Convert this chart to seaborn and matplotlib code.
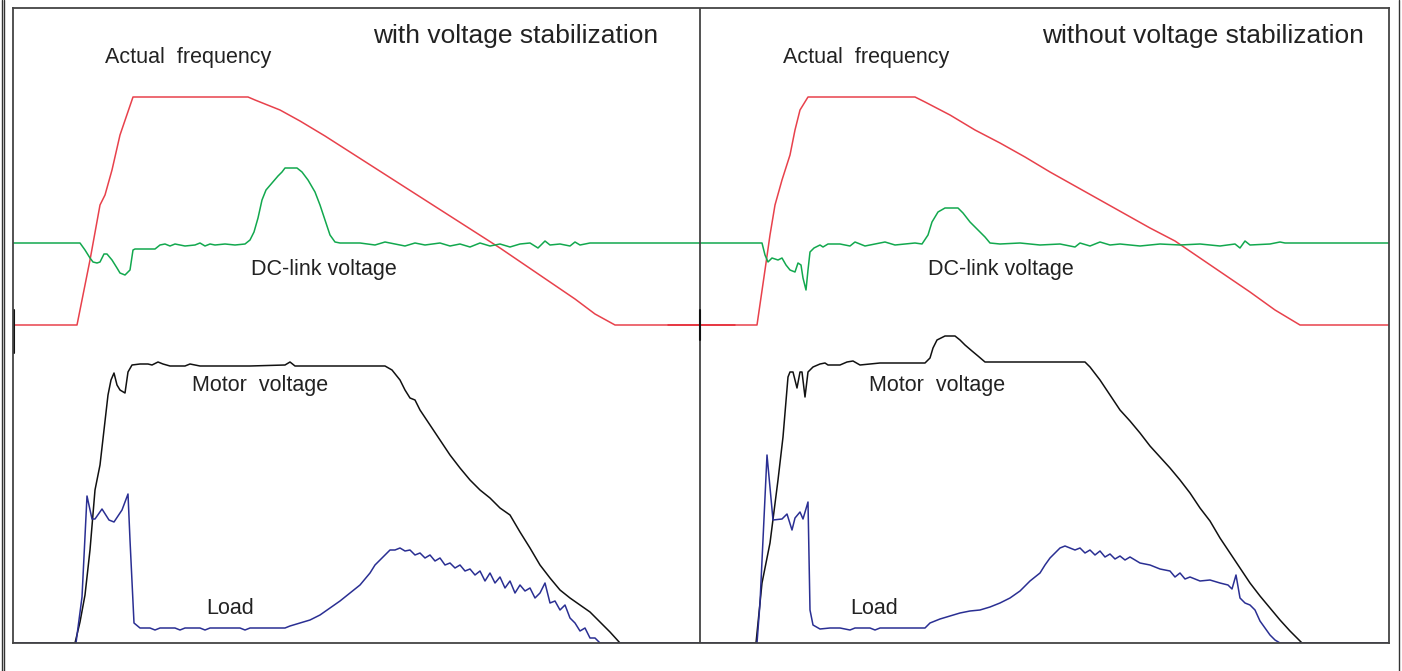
import numpy as np
import pandas as pd
import matplotlib
matplotlib.use("Agg")
import matplotlib.pyplot as plt
import seaborn as sns
from matplotlib.lines import Line2D

# tiempo (unidades de registro) y niveles de cada señal, leidos del oscilograma
# ---- panel izquierdo: con estabilizacion de tension ----
frec_izq_t = [13, 77, 90, 100, 105, 112, 120, 133, 248, 255, 265, 280, 300, 325, 350, 375, 400,
              425, 450, 475, 500, 525, 550, 575, 595, 615, 735]
frec_izq_v = [318, 318, 383, 438, 448, 473, 508, 546, 546, 543, 539, 533, 522, 507, 491, 475, 459,
              443, 427, 411, 395, 378, 361, 344, 329, 318, 318]

dc_izq_t = [13, 80, 85, 90, 93, 97, 100, 104, 107, 112, 117, 120, 125, 130, 133, 135, 155, 160,
            165, 170, 175, 185, 195, 200, 205, 210, 215, 225, 235, 245, 250, 254, 258, 262, 266,
            272, 278, 282, 285, 297, 302, 308, 315, 320, 325, 330, 335, 340, 360, 375, 385, 395,
            405, 415, 425, 440, 450, 460, 470, 480, 490, 500, 510, 520, 530, 538, 545, 550, 560,
            570, 575, 580, 590, 600, 700]
dc_izq_v = [400, 400, 393, 385, 381, 380, 381, 389, 389, 383, 375, 370, 368, 373, 393, 394, 394, 398,
            399, 397, 399, 397, 398, 400, 397, 399, 398, 399, 398, 399, 403, 411, 425, 443, 453,
            460, 467, 471, 475, 475, 471, 463, 451, 438, 423, 408, 401, 400, 400, 398, 401, 399,
            397, 400, 398, 400, 397, 399, 396, 400, 397, 399, 396, 399, 400, 395, 402, 398, 399,
            397, 401, 398, 400, 400, 400]

motor_izq_t = [13, 75, 80, 85, 90, 95, 100, 104, 108, 111, 114, 117, 120, 125, 128, 132, 140, 148,
               152, 158, 163, 170, 185, 190, 200, 250, 285, 290, 295, 385, 392, 400, 405, 410,
               415, 420, 430, 440, 450, 460, 470, 480, 490, 500, 510, 520, 530, 540, 550, 560,
               570, 580, 590, 600, 610, 620, 700]
motor_izq_v = [0, 0, 21, 48, 93, 153, 178, 213, 248, 263, 270, 258, 253, 250, 271, 278, 279, 279,
               278, 281, 279, 277, 277, 279, 277, 277, 278, 281, 277, 277, 273, 263, 253, 245,
               243, 233, 218, 203, 188, 175, 163, 153, 145, 135, 128, 111, 95, 78, 65, 53,
               45, 38, 31, 21, 11, 0, 0]

carga_izq_t = [13, 76, 82, 87, 92, 95, 102, 109, 114, 122, 128, 130, 134, 140, 150, 155, 160, 175,
               180, 185, 200, 205, 210, 240, 245, 250, 285, 290, 300, 310, 320, 330, 340, 350,
               360, 370, 375, 380, 385, 390, 395, 400, 405, 410, 415, 420, 425, 430, 435, 440,
               445, 450, 455, 460, 465, 470, 475, 480, 485, 490, 495, 500, 505, 510, 515, 520,
               525, 530, 535, 540, 545, 550, 555, 560, 565, 570, 575, 580, 585, 590, 595, 600, 700]
carga_izq_v = [0, 0, 46, 147, 124, 124, 134, 123, 121, 133, 149, 103, 20, 15, 15, 13, 15, 15,
               13, 15, 15, 13, 15, 15, 13, 15, 15, 17, 20, 23, 28, 35, 42, 50,
               58, 70, 78, 83, 88, 93, 93, 95, 92, 93, 88, 90, 85, 88, 82, 85,
               78, 80, 75, 78, 72, 74, 68, 72, 62, 70, 60, 66, 55, 62, 50, 58,
               52, 55, 45, 50, 60, 40, 42, 33, 38, 25, 20, 12, 15, 5, 5, 0, 0]

# ---- panel derecho: sin estabilizacion de tension ----
frec_der_t = [668, 757, 765, 770, 775, 782, 790, 795, 800, 808, 915, 925, 950, 975, 1000, 1025,
              1050, 1075, 1100, 1125, 1150, 1175, 1200, 1225, 1250, 1275, 1300, 1389]
frec_der_v = [318, 318, 373, 408, 438, 463, 488, 513, 533, 546, 546, 541, 528, 513, 500, 486,
              471, 457, 443, 429, 415, 402, 385, 368, 351, 333, 318, 318]

dc_der_t = [700, 762, 765, 768, 772, 778, 782, 786, 790, 795, 798, 801, 803, 806, 808, 810, 814,
            820, 823, 828, 840, 850, 855, 865, 875, 885, 895, 905, 915, 922, 928, 932, 938, 945,
            958, 963, 970, 978, 985, 990, 1000, 1020, 1040, 1060, 1075, 1080, 1090, 1100, 1110,
            1120, 1140, 1160, 1180, 1200, 1220, 1235, 1240, 1245, 1250, 1270, 1280, 1285, 1389]
dc_der_v = [400, 400, 388, 381, 385, 383, 385, 378, 373, 371, 380, 378, 365, 353, 373, 391, 395,
            398, 396, 399, 399, 397, 401, 397, 399, 401, 398, 399, 400, 399, 408, 421, 431, 435,
            435, 430, 421, 413, 406, 400, 399, 400, 398, 399, 396, 400, 397, 401, 398,
            399, 397, 399, 398, 399, 397, 399, 395, 402, 398, 399, 401, 400, 400]

motor_der_t = [700, 756, 762, 770, 778, 783, 788, 790, 793, 797, 800, 802, 805, 808, 813, 820, 825,
               828, 840, 847, 853, 860, 870, 880, 900, 925, 930, 933, 937, 945, 955, 960, 965,
               972, 978, 985, 1000, 1050, 1085, 1090, 1100, 1110, 1120, 1130, 1140, 1150, 1160,
               1170, 1180, 1190, 1200, 1210, 1220, 1230, 1240, 1250, 1260, 1270, 1280, 1290,
               1302, 1389]
motor_der_v = [0, 0, 60, 100, 163, 206, 266, 271, 271, 255, 271, 271, 246, 271, 276, 279, 280,
               278, 278, 281, 282, 278, 279, 280, 280, 280, 285, 295, 303, 307, 307, 303, 298,
               292, 287, 281, 281, 281, 281, 276, 263, 248, 233, 222, 210, 197, 186,
               175, 163, 150, 135, 122, 105, 90, 75, 60, 47, 35, 23, 12,
               0, 0]

carga_der_t = [700, 757, 760, 767, 773, 782, 787, 792, 795, 800, 803, 808, 810, 813, 820, 830, 840,
               850, 855, 870, 875, 880, 925, 930, 940, 950, 960, 970, 980, 990, 1000, 1010, 1020,
               1030, 1040, 1045, 1050, 1055, 1060, 1065, 1070, 1075, 1080, 1085, 1090, 1095,
               1100, 1105, 1110, 1115, 1120, 1125, 1130, 1140, 1150, 1160, 1170, 1175, 1180,
               1185, 1190, 1200, 1210, 1220, 1228, 1232, 1236, 1240, 1245, 1250, 1255, 1260,
               1265, 1270, 1275, 1280, 1389]
carga_der_v = [0, 0, 40, 188, 123, 124, 129, 113, 125, 131, 124, 141, 33, 18, 14, 15, 15,
               13, 15, 15, 13, 15, 15, 20, 24, 27, 30, 32, 33, 36, 40, 45, 52,
               62, 70, 78, 85, 90, 95, 97, 95, 93, 95, 90, 93, 88,
               92, 86, 89, 84, 87, 83, 86, 80, 78, 74, 72, 66, 70,
               64, 66, 62, 63, 60, 58, 54, 68, 45, 40, 38, 33, 22,
               15, 8, 3, 0, 0]

rojo = "#e4202c"
verde = "#12a84e"
negro = "#111111"
azul = "#2a2f93"
texto = "#222222"

sns.set_theme(style="white")
plt.rcParams["font.family"] = ["Liberation Sans", "DejaVu Sans"]

fig = plt.figure(figsize=(14.02, 6.71), dpi=100)
ax = fig.add_axes([13 / 1402, 28 / 671, 1376 / 1402, 635 / 671])

curvas = [
    (frec_izq_t, frec_izq_v, rojo),
    (frec_der_t, frec_der_v, rojo),
    (dc_izq_t, dc_izq_v, verde),
    (dc_der_t, dc_der_v, verde),
    (motor_izq_t, motor_izq_v, negro),
    (motor_der_t, motor_der_v, negro),
    (carga_izq_t, carga_izq_v, azul),
    (carga_der_t, carga_der_v, azul),
]
for t, v, c in curvas:
    sns.lineplot(x=t, y=v, color=c, linewidth=1.1, sort=False, estimator=None, ax=ax,
                 alpha=0.85 if c == rojo else 1.0)

ax.set_xlim(13, 1389)
ax.set_ylim(0, 635)
ax.set_xticks([])
ax.set_yticks([])
ax.set_xlabel("")
ax.set_ylabel("")
for s in ax.spines.values():
    s.set_color("#444444")
    s.set_linewidth(1.3)

# separador central y marcas en la linea cero de frecuencia
ax.axvline(700, color="#444444", linewidth=1.3)
ax.plot([700, 700], [303, 333], color="#111111", linewidth=1.5)
ax.plot([13.5, 13.5], [290, 333], color="#111111", linewidth=1.5)

fs_tit = 19
fs_lab = 15.5
ax.text(658, 607, "with voltage stabilization", ha="right", va="center", fontsize=fs_tit, color=texto)
ax.text(1364, 607, "without voltage stabilization", ha="right", va="center", fontsize=fs_tit, color=texto)
for x0 in (188, 866):
    ax.text(x0, 585, "Actual  frequency", ha="center", va="center", fontsize=fs_lab, color=texto)
ax.text(324, 374, "DC-link voltage", ha="center", va="center", fontsize=fs_lab, color=texto)
ax.text(1001, 374, "DC-link voltage", ha="center", va="center", fontsize=fs_lab, color=texto)
ax.text(260, 258, "Motor  voltage", ha="center", va="center", fontsize=fs_lab, color=texto)
ax.text(937, 258, "Motor  voltage", ha="center", va="center", fontsize=fs_lab, color=texto)
ax.text(230, 35, "Load", ha="center", va="center", fontsize=fs_lab, color=texto)
ax.text(874, 35, "Load", ha="center", va="center", fontsize=fs_lab, color=texto)

# marco exterior
for xf in (1.5 / 1402, 4 / 1402, 1398.5 / 1402):
    fig.add_artist(Line2D([xf, xf], [0, 1], color="#333333", linewidth=1.0))

fig.savefig("out.png", dpi=100, facecolor="white")
